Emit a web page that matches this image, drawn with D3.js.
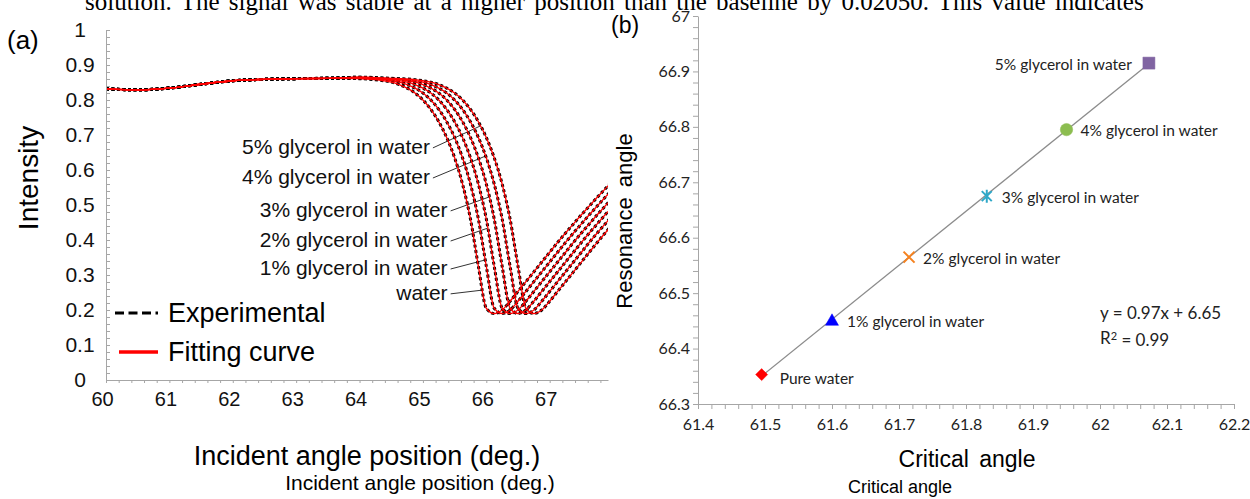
<!DOCTYPE html>
<html>
<head>
<meta charset="utf-8">
<script src="https://cdn.jsdelivr.net/npm/d3@7"></script>
<style>
body{margin:0;background:#fff}
svg{display:block}
</style>
</head>
<body>
<svg width="1250" height="499"></svg>
<script>
/* panel (a): reflectance curves */
let angles=[60,60.5,61,61.5,62,62.5,63,63.5,64,64.125,64.25,64.375,64.5,64.625,64.75,64.875,65,65.125,65.25,65.375,65.5,65.625,65.75,65.875,66,66.125,66.25,66.375,66.5,66.625,66.75,66.875,67,67.125,67.25,67.375,67.5,67.625,67.75,67.875,68]
let water=[0.832,0.829,0.834,0.845,0.855,0.859,0.861,0.862,.861,.860,.858,.855,.851,.844,.834,.820,.800,.773,.738,.693,.635,.560,.460,.325,.205,.190,.200,.225,.253,.281,.309,.337,.365,.393,.420,.446,.472,.497,.522,.546,.570]
let gly1=[0.832,0.829,0.834,0.845,0.855,0.859,0.861,0.862,.862,.861,.860,.858,.855,.851,.844,.834,.820,.800,.773,.738,.693,.635,.560,.460,.325,.205,.190,.200,.225,.253,.281,.309,.337,.365,.393,.420,.446,.472,.497,.522,.546]
let gly2=[0.832,0.829,0.834,0.845,0.855,0.859,0.861,0.862,.863,.862,.861,.860,.858,.855,.851,.844,.834,.820,.800,.773,.738,.693,.635,.560,.460,.325,.205,.190,.200,.225,.253,.281,.309,.337,.365,.393,.420,.446,.472,.497,.522]
let gly3=[0.832,0.829,0.834,0.845,0.855,0.859,0.861,0.862,.864,.863,.862,.861,.860,.858,.855,.851,.844,.834,.820,.800,.773,.738,.693,.635,.560,.460,.325,.205,.190,.200,.225,.253,.281,.309,.337,.365,.393,.420,.446,.472,.497]
let gly4=[0.832,0.829,0.834,0.845,0.855,0.859,0.861,0.862,.865,.864,.863,.862,.861,.860,.858,.855,.851,.844,.834,.820,.800,.773,.738,.693,.635,.560,.460,.325,.205,.190,.200,.225,.253,.281,.309,.337,.365,.393,.420,.446,.472]
let gly5=[0.832,0.829,0.834,0.845,0.855,0.859,0.861,0.862,.865,.865,.864,.863,.862,.861,.860,.858,.855,.851,.844,.834,.820,.800,.773,.738,.693,.635,.560,.460,.325,.205,.190,.200,.225,.253,.281,.309,.337,.365,.393,.420,.446]
let curveNames=['5% glycerol in water','4% glycerol in water','3% glycerol in water','2% glycerol in water','1% glycerol in water','water']
let curveSeries=[gly5,gly4,gly3,gly2,gly1,water]
// where each name sits (angle of text end, intensity) and the level its leader points at
let labelAngle=[65.11,65.11,65.39,65.39,65.39,65.39]
let labelLevel=[0.666,0.580,0.486,0.400,0.320,0.249]
let leaderLevel=[0.726,0.640,0.523,0.434,0.343,0.257]
let xTicksA=[60,61,62,63,64,65,66,67]
let yTicksA=[0,0.1,0.2,0.3,0.4,0.5,0.6,0.7,0.8,0.9,1]

/* panel (b): critical angle vs resonance angle */
let samples=['Pure water','1% glycerol in water','2% glycerol in water','3% glycerol in water','4% glycerol in water','5% glycerol in water']
let critical=[61.495,61.600,61.715,61.831,61.950,62.073]
let resonance=[66.353,66.451,66.565,66.675,66.795,66.915]
let xTicksB=[61.4,61.5,61.6,61.7,61.8,61.9,62,62.1,62.2]
let yTicksB=[66.3,66.4,66.5,66.6,66.7,66.8,66.9,67]

let markColor=['#ff0000','#0000ff','#f58220','#2fa8c8','#8cbd50','#8064a2']

let svg=d3.select('svg')
svg.append('rect').attr('width',1250).attr('height',499).attr('fill','#fff')

// clipped line of body text above the figure
svg.append('text').attr('x',85).attr('y',10)
  .attr('font-family','Liberation Serif').attr('font-size',25).attr('word-spacing',3).attr('fill','#000')
  .text('solution. The signal was stable at a higher position than the baseline by 0.02050. This value indicates')

let sans='Liberation Sans'
let gray='#a6a6a6'
let plain=d=>String(d)

/* ---------- panel (a) ---------- */
let xA=d3.scaleLinear().domain([60,67.92]).range([106,608])
let yA=d3.scaleLinear().domain([0,1]).range([380,30])

let gA=svg.append('g')

// minor ticks
gA.append('g').attr('transform','translate(106,0)')
  .call(d3.axisRight(yA).ticks(50).tickSize(4).tickSizeOuter(0).tickFormat(''))
  .call(g=>{g.selectAll('line,path').attr('stroke',gray)})
gA.append('g').attr('transform','translate(0,380)')
  .call(d3.axisBottom(xA).ticks(40).tickSize(3).tickSizeOuter(0).tickFormat(''))
  .call(g=>{g.selectAll('line,path').attr('stroke',gray)})

// tick labels
gA.append('g').attr('transform','translate(80,0)')
  .call(d3.axisLeft(yA).tickValues(yTicksA).tickFormat(plain).tickSize(0).tickPadding(0))
  .call(g=>{
    g.select('.domain').remove()
    g.selectAll('text').attr('text-anchor','middle').attr('font-family',sans).attr('font-size',21).attr('fill','#111')
  })
gA.append('g').attr('transform','translate(-4,392)')
  .call(d3.axisBottom(xA).tickValues(xTicksA).tickFormat(plain).tickSize(0).tickPadding(0))
  .call(g=>{
    g.select('.domain').remove()
    g.selectAll('text').attr('font-family',sans).attr('font-size',20).attr('fill','#111')
  })

gA.append('text').attr('transform','translate(38,178) rotate(-90)')
  .attr('text-anchor','middle').attr('font-family',sans).attr('font-size',28).text('Intensity')
gA.append('text').attr('x',367).attr('y',465).attr('text-anchor','middle')
  .attr('font-family',sans).attr('font-size',27).text('Incident angle position (deg.)')
gA.append('text').attr('x',420).attr('y',490).attr('text-anchor','middle')
  .attr('font-family',sans).attr('font-size',21).text('Incident angle position (deg.)')
svg.append('text').attr('x',7).attr('y',49).attr('font-family',sans).attr('font-size',26).text('(a)')

// curves
svg.append('clipPath').attr('id','clipA').append('rect')
  .attr('x',107).attr('y',0).attr('width',501).attr('height',380)
let line=d3.line().x((d,i)=>xA(angles[i])).y(d=>yA(d)).curve(d3.curveMonotoneX)
let plot=svg.append('g').attr('clip-path','url(#clipA)')
plot.selectAll('.exp').data(curveSeries).enter().append('path')
  .attr('d',line).attr('fill','none').attr('stroke','#000')
  .attr('stroke-width',3).attr('stroke-dasharray','3,2.5')
plot.selectAll('.fit').data(curveSeries).enter().append('path')
  .attr('d',line).attr('fill','none').attr('stroke','#ff0000').attr('stroke-width',1.3)

// find angle where a series first falls through a level on its way down
function crossAt(vals,level){
  for(let i=8;i<vals.length-1;i++){
    if(vals[i]>=level && vals[i+1]<level){
      let t=(vals[i]-level)/(vals[i]-vals[i+1])
      return angles[i]+t*(angles[i+1]-angles[i])
    }
  }
  return angles[0]
}

curveNames.forEach((name,k)=>{
  let tx=xA(labelAngle[k]), ty=yA(labelLevel[k])
  gA.append('text').attr('x',tx).attr('y',ty).attr('dy','0.35em')
    .attr('text-anchor','end').attr('font-family',sans).attr('font-size',21).attr('fill','#111')
    .text(name)
  gA.append('line').attr('x1',tx+3).attr('y1',ty+1)
    .attr('x2',xA(crossAt(curveSeries[k],leaderLevel[k]))).attr('y2',yA(leaderLevel[k]))
    .attr('stroke','#333').attr('stroke-width',1)
})

// legend
let leg=svg.append('g')
leg.append('line').attr('x1',115).attr('x2',158).attr('y1',313).attr('y2',313)
  .attr('stroke','#000').attr('stroke-width',3.2).attr('stroke-dasharray','9,4.5')
leg.append('line').attr('x1',119).attr('x2',158).attr('y1',352).attr('y2',352)
  .attr('stroke','#ff0000').attr('stroke-width',3.5)
leg.append('text').attr('x',168).attr('y',313).attr('dy','0.35em').attr('font-family',sans).attr('font-size',27).text('Experimental')
leg.append('text').attr('x',168).attr('y',352).attr('dy','0.35em').attr('font-family',sans).attr('font-size',27).text('Fitting curve')

/* ---------- panel (b) ---------- */
let xB=d3.scaleLinear().domain([61.4,62.2]).range([698,1234])
let yB=d3.scaleLinear().domain([66.3,67]).range([404,16])
let lato='Lato'
let gB=svg.append('g')

gB.append('g').attr('transform','translate(698,0)')
  .call(d3.axisLeft(yB).ticks(35).tickSize(5).tickSizeOuter(0).tickFormat(''))
  .call(g=>g.selectAll('line,path').attr('stroke',gray))
gB.append('g').attr('transform','translate(0,404)')
  .call(d3.axisBottom(xB).ticks(40).tickSize(5).tickSizeOuter(0).tickFormat(''))
  .call(g=>g.selectAll('line,path').attr('stroke',gray))

gB.append('g').attr('transform','translate(690,0)')
  .call(d3.axisLeft(yB).tickValues(yTicksB).tickFormat(plain).tickSize(0).tickPadding(0))
  .call(g=>{
    g.select('.domain').remove()
    g.selectAll('text').attr('font-family',lato).attr('font-size',16).attr('fill','#222')
  })
gB.append('g').attr('transform','translate(0,419)')
  .call(d3.axisBottom(xB).tickValues(xTicksB).tickFormat(plain).tickSize(0).tickPadding(0))
  .call(g=>{
    g.select('.domain').remove()
    g.selectAll('text').attr('font-family',lato).attr('font-size',16).attr('fill','#222')
  })

gB.append('text').attr('transform','translate(632,221) rotate(-90)').attr('text-anchor','middle')
  .attr('font-family',sans).attr('font-size',22).attr('word-spacing',4).text('Resonance angle')
gB.append('text').attr('x',967).attr('y',467).attr('text-anchor','middle')
  .attr('font-family',sans).attr('font-size',23).attr('word-spacing',4).text('Critical angle')
gB.append('text').attr('x',900).attr('y',493).attr('text-anchor','middle')
  .attr('font-family',sans).attr('font-size',18).text('Critical angle')
svg.append('text').attr('x',611).attr('y',33).attr('font-family',sans).attr('font-size',23).text('(b)')

// linear trend through the points
let mx=d3.mean(critical), my=d3.mean(resonance)
let slope=d3.sum(critical,(c,i)=>(c-mx)*(resonance[i]-my))/d3.sum(critical,c=>(c-mx)*(c-mx))
let icpt=my-slope*mx
let xr=d3.extent(critical)
gB.append('line').attr('x1',xB(xr[0])).attr('y1',yB(slope*xr[0]+icpt))
  .attr('x2',xB(xr[1])).attr('y2',yB(slope*xr[1]+icpt))
  .attr('stroke','#8c8c8c').attr('stroke-width',1.3)

let markPath=[
  'M0,-6L6,0L0,6L-6,0Z',
  'M0,-6.5L6.5,5L-6.5,5Z',
  'M-5.5,-5.5L5.5,5.5M-5.5,5.5L5.5,-5.5',
  'M-5,-5L5,5M-5,5L5,-5M0,-6.5L0,6.5',
  d3.symbol(d3.symbolCircle,120)(),
  'M-6,-6H6V6H-6Z'
]
samples.forEach((s,i)=>{
  let stroked=(i==2||i==3)
  gB.append('path').attr('d',markPath[i])
    .attr('transform','translate('+xB(critical[i])+','+yB(resonance[i])+')')
    .attr('fill',stroked?'none':markColor[i])
    .attr('stroke',markColor[i]).attr('stroke-width',stroked?2:0.5)
})

let labDx=[18,15,14,15,14,-17]
samples.forEach((s,i)=>{
  gB.append('text').attr('x',xB(critical[i])+labDx[i]).attr('y',yB(resonance[i])+(i==0?4:1))
    .attr('dy','0.35em').attr('text-anchor',i==5?'end':'start')
    .attr('font-family',lato).attr('font-size',15.5).attr('fill','#222').text(s)
})

gB.append('text').attr('x',1100).attr('y',313).attr('dy','0.35em')
  .attr('font-family',lato).attr('font-size',17).attr('fill','#222').text('y = 0.97x + 6.65')
let r2=gB.append('text').attr('x',1100).attr('y',338).attr('dy','0.35em')
  .attr('font-family',lato).attr('font-size',17).attr('fill','#222')
r2.append('tspan').text('R')
r2.append('tspan').attr('dy','-0.4em').attr('font-size',11).text('2')
r2.append('tspan').attr('dy','0.4em').text(' = 0.99')
</script>
</body>
</html>
